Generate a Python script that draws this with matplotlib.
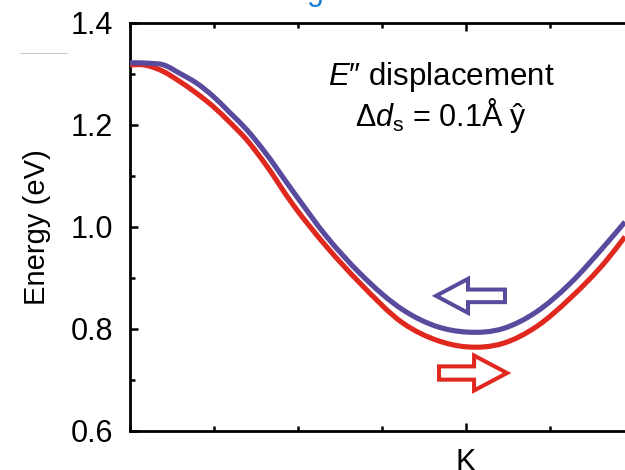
import matplotlib
matplotlib.use("Agg")
import matplotlib.pyplot as plt
from matplotlib.patches import FancyArrow, PathPatch
from matplotlib.path import Path
from matplotlib.lines import Line2D
from matplotlib.ticker import MultipleLocator, FixedLocator

plt.rcParams['font.family'] = ['Liberation Sans', 'DejaVu Sans']
plt.rcParams['mathtext.fontset'] = 'custom'
plt.rcParams['mathtext.rm'] = 'Liberation Sans'
plt.rcParams['mathtext.it'] = 'Liberation Sans:italic'

# k-path coordinate (K = 0, one unit = one minor tick spacing)
k_purple = [-4.000, -3.762, -3.604, -3.405, -3.206, -3.008, -2.810, -2.611, -2.413,
            -2.056, -1.658, -1.262, -0.746, -0.349, 0.008, 0.444, 0.842, 1.238,
            1.675, 1.893]
e_purple = [1.322, 1.321, 1.318, 1.301, 1.282, 1.256, 1.224, 1.191, 1.151,
            1.069, 0.981, 0.909, 0.837, 0.805, 0.794, 0.801, 0.834, 0.889,
            0.968, 1.010]

k_red = [-4.000, -3.842, -3.604, -3.405, -3.206, -3.008, -2.810, -2.611, -2.413,
         -2.056, -1.658, -1.262, -0.746, -0.349, 0.008, 0.444, 0.842, 1.238,
         1.675, 1.893]
e_red = [1.318, 1.318, 1.305, 1.285, 1.262, 1.236, 1.205, 1.171, 1.129,
         1.043, 0.961, 0.890, 0.811, 0.778, 0.765, 0.772, 0.805, 0.860,
         0.935, 0.981]

xtick_labels = ['K']
yticks = [0.6, 0.8, 1.0, 1.2, 1.4]

PURPLE = '#5a4a9e'
RED = '#e0281f'


def smooth_path(xs, ys):
    """Smooth curve through the given points (cubic Hermite drawn as Bezier segments)."""
    n = len(xs)
    h = [xs[i + 1] - xs[i] for i in range(n - 1)]
    s = [(ys[i + 1] - ys[i]) / h[i] for i in range(n - 1)]
    m = [s[0]] + [(s[i - 1] * h[i] + s[i] * h[i - 1]) / (h[i - 1] + h[i])
                  for i in range(1, n - 1)] + [s[-1]]
    verts = [(xs[0], ys[0])]
    codes = [Path.MOVETO]
    for i in range(n - 1):
        d = h[i] / 3
        verts += [(xs[i] + d, ys[i] + m[i] * d),
                  (xs[i + 1] - d, ys[i + 1] - m[i + 1] * d),
                  (xs[i + 1], ys[i + 1])]
        codes += [Path.CURVE4] * 3
    return Path(verts, codes)


fig = plt.figure(figsize=(6.25, 4.7), dpi=100)
ax = fig.add_axes([130/625, 1 - 431/470, (634 - 130)/625, (431 - 23)/470])

ax.add_patch(PathPatch(smooth_path(k_red, e_red), fill=False, edgecolor=RED, lw=3.7,
                       capstyle='butt', joinstyle='round', zorder=3))
ax.add_patch(PathPatch(smooth_path(k_purple, e_purple), fill=False, edgecolor=PURPLE, lw=3.7,
                       capstyle='butt', joinstyle='round', zorder=4))

# hollow arrows
ax.add_patch(FancyArrow(0.464, 0.865, -0.821, 0, width=0.0247, head_width=0.0667,
                        head_length=0.381, length_includes_head=True,
                        fill=False, edgecolor=PURPLE, lw=2.9, joinstyle='miter'))
ax.add_patch(FancyArrow(-0.321, 0.7137, 0.810, 0, width=0.026, head_width=0.0686,
                        head_length=0.393, length_includes_head=True,
                        fill=False, edgecolor=RED, lw=2.9, joinstyle='miter'))

ax.set_xlim(-4, 2)
ax.set_ylim(0.6, 1.4)

ax.xaxis.set_major_locator(FixedLocator([0]))
ax.set_xticklabels(xtick_labels)
ax.xaxis.set_minor_locator(FixedLocator([-4, -3, -2, -1, 1, 2]))
ax.set_yticks(yticks)
ax.set_yticklabels([f'{v:.1f}' for v in yticks])
ax.yaxis.set_minor_locator(MultipleLocator(0.1))

ax.tick_params(which='both', direction='in', top=True, right=True, width=1.8,
               labelsize=22, pad=12)
ax.tick_params(which='major', length=5.8)
ax.tick_params(which='minor', length=3.4)
for s in ax.spines.values():
    s.set_linewidth(2.0)

ax.set_ylabel('Energy (eV)', fontsize=21, labelpad=14)

fig.text(441/625, 1 - 85/470, r'$\mathit{E}$″ displacement', fontsize=22.5,
         ha='center', va='baseline')
fig.text(441/625, 1 - 126/470, r'Δ$\mathit{d}_\mathrm{s}$ = 0.1Å ŷ', fontsize=22,
         ha='center', va='baseline')

# cropped fragments at image edges
fig.text(315/625, 1.0, 'g', fontsize=22, color='#1a7fd4', ha='center', va='baseline')
fig.add_artist(Line2D([20/625, 67/625], [1 - 53/470, 1 - 53/470], color='#cccccc', lw=0.8))

fig.savefig('out.png', dpi=100)
